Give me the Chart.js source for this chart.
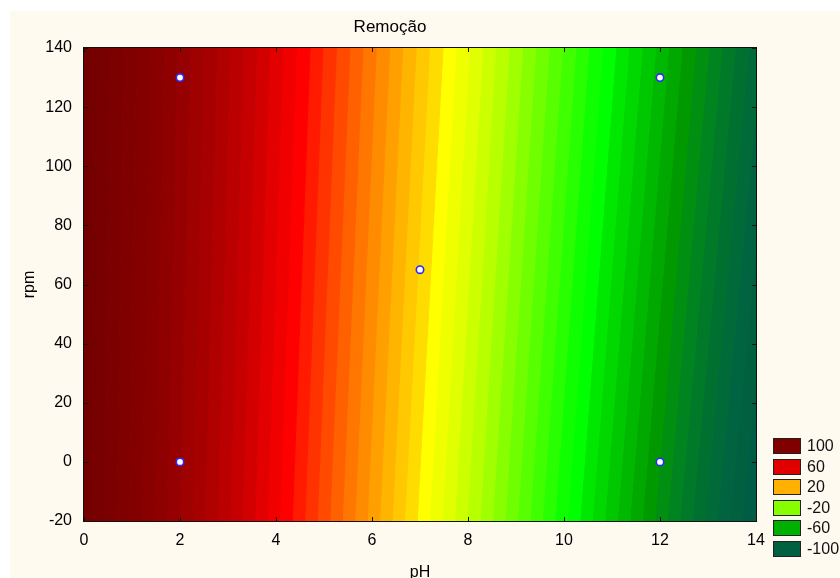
<!DOCTYPE html>
<html>
<head>
<meta charset="utf-8">
<script src="https://cdn.jsdelivr.net/npm/chart.js@4/dist/chart.umd.min.js"></script>
<style>
  html, body { margin: 0; padding: 0; background: #ffffff; }
  #c { display: block; }
</style>
</head>
<body>
<canvas id="c" width="840" height="578"></canvas>
<script>
// ---------------- data ----------------
const chartTitle = 'Remoção';
const xAxisLabel = 'pH';
const yAxisLabel = 'rpm';

const xTicks = [0, 2, 4, 6, 8, 10, 12, 14];
const yTicks = [-20, 0, 20, 40, 60, 80, 100, 120, 140];
const phRange = [0, 14];
const rpmRange = [-20, 140];

// contour levels of "Remoção" (step 4)
const contourLevels = [116,112,108,104,100,96,92,88,84,80,76,72,68,64,60,56,52,48,44,40,36,32,28,24,20,16,12,8,4,0,-4,-8,-12,-16,-20,-24,-28,-32,-36,-40,-44,-48,-52,-56,-60,-64,-68,-72,-76,-80,-84,-88,-92,-96,-100,-104];
// pH where each contour line meets the bottom edge (rpm = -20)
const contourPHAtRpmMin = [-0.09,0.17,0.43,0.69,0.95,1.21,1.47,1.73,2.00,2.26,2.52,2.78,3.04,3.30,3.56,3.82,4.08,4.34,4.60,4.86,5.12,5.38,5.64,5.90,6.16,6.42,6.68,6.94,7.20,7.46,7.72,7.98,8.25,8.51,8.77,9.03,9.29,9.55,9.81,10.07,10.33,10.59,10.85,11.11,11.37,11.63,11.89,12.15,12.41,12.67,12.93,13.19,13.45,13.71,13.97,14.23];
// pH where each contour line meets the top edge (rpm = 140)
const contourPHAtRpmMax = [-0.01,0.27,0.55,0.83,1.10,1.38,1.66,1.93,2.21,2.49,2.77,3.04,3.32,3.60,3.87,4.15,4.43,4.71,4.98,5.26,5.54,5.81,6.09,6.37,6.64,6.92,7.20,7.48,7.75,8.03,8.31,8.58,8.86,9.14,9.41,9.69,9.97,10.25,10.52,10.80,11.08,11.35,11.63,11.91,12.18,12.46,12.74,13.02,13.29,13.57,13.85,14.12,14.40,14.68,14.95,15.23];
// colour of the band between contourLevels[i] and contourLevels[i+1]
const bandColors = [
  '#740000','#780000','#7d0000','#800000','#840000','#880000','#8f0000','#970000',
  '#9f0000','#a70000','#b00000','#ba0000','#c60000','#d30000','#e20000','#f10000',
  '#ff0000','#ff1a00','#ff3300','#ff4a00','#ff6000','#ff7600','#ff8c00','#ffa000',
  '#ffb400','#ffc800','#ffdc00','#ffff00','#f0ff00','#e0ff00','#ccff00','#b8ff00',
  '#a0ff00','#88ff00','#70ff00','#58ff00','#40ff00','#28ff00','#10ff00','#00ff00',
  '#00e800','#00d800','#00c800','#00b800','#00a800','#009a00','#008f10','#008420',
  '#007a28','#007030','#006a38','#006440','#006040','#005c44','#005848'
];

// experimental design points
const designPH  = [2, 2, 12, 12, 7];
const designRpm = [0, 130, 0, 130, 65];

// legend
const legendLevels = ['100', '60', '20', '-20', '-60', '-100'];
const legendColors = ['#800000', '#e00000', '#ffb000', '#88ff00', '#00b000', '#006040'];

// ---------------- fonts ----------------
function fontAvailable(name) {
  const ctx = document.createElement('canvas').getContext('2d');
  const s = 'mmmmmwwwlli1406Remoção';
  ctx.font = '50px monospace';
  const w1 = ctx.measureText(s).width;
  ctx.font = '50px "' + name + '", monospace';
  const w2 = ctx.measureText(s).width;
  return Math.abs(w1 - w2) > 0.5;
}
const NARROW = fontAvailable('Liberation Sans Narrow');
const FAMILY = NARROW ? '"Liberation Sans Narrow", "Liberation Sans", Arial, sans-serif'
                      : '"Liberation Sans", Arial, sans-serif';
const FS = NARROW ? 19 : 16;        // tick / legend / axis title size
const TITLE_FS = NARROW ? 20 : 17;

const PAGE_BG = '#fffaf0';
const TEXT = '#000000';

// ---------------- datasets ----------------
const datasets = [{
  label: 'design',
  data: designPH.map((x, i) => ({ x: x, y: designRpm[i] })),
  pointRadius: 3.7,
  pointBackgroundColor: '#ffffff',
  pointBorderColor: '#2a2aff',
  pointBorderWidth: 1.6,
  order: 0
}];
for (let i = 0; i < bandColors.length; i++) {
  datasets.push({
    label: 'band ' + contourLevels[i + 1] + '..' + contourLevels[i],
    data: [
      { x: contourPHAtRpmMin[i],     y: rpmRange[0] },
      { x: contourPHAtRpmMax[i],     y: rpmRange[1] },
      { x: contourPHAtRpmMax[i + 1], y: rpmRange[1] },
      { x: contourPHAtRpmMin[i + 1], y: rpmRange[0] }
    ],
    showLine: true,
    fill: 'shape',
    backgroundColor: bandColors[i],
    borderColor: bandColors[i],
    borderWidth: 1,
    pointRadius: 0,
    tension: 0,
    clip: 0,
    order: 1
  });
}

// ---------------- plugins ----------------
const bgPlugin = {
  id: 'pageBg',
  beforeDraw(chart) {
    const c = chart.ctx;
    c.save();
    c.fillStyle = '#ffffff';
    c.fillRect(0, 0, chart.width, chart.height);
    c.fillStyle = PAGE_BG;
    c.fillRect(10, 11, chart.width - 10, chart.height - 11);
    c.restore();
  }
};

const framePlugin = {
  id: 'frame',
  afterDatasetsDraw(chart) {
    const { ctx, chartArea: a, scales: { x, y } } = chart;
    ctx.save();
    ctx.strokeStyle = '#111111';
    ctx.lineWidth = 1;
    ctx.strokeRect(a.left - 0.5, a.top - 0.5, a.right - a.left + 1, a.bottom - a.top + 1);
    ctx.beginPath();
    xTicks.forEach(v => {
      const px = Math.round(x.getPixelForValue(v)) + 0.5;
      ctx.moveTo(px, a.top); ctx.lineTo(px, a.top + 4);
      ctx.moveTo(px, a.bottom); ctx.lineTo(px, a.bottom - 4);
    });
    yTicks.forEach(v => {
      const py = Math.round(y.getPixelForValue(v)) + 0.5;
      ctx.moveTo(a.left, py); ctx.lineTo(a.left + 4, py);
      ctx.moveTo(a.right, py); ctx.lineTo(a.right - 4, py);
    });
    ctx.stroke();
    ctx.restore();
  }
};

const titleLegendPlugin = {
  id: 'titleLegend',
  afterDraw(chart) {
    const ctx = chart.ctx;
    ctx.save();
    // title
    ctx.fillStyle = TEXT;
    ctx.font = TITLE_FS + 'px ' + FAMILY;
    ctx.textAlign = 'center';
    ctx.textBaseline = 'middle';
    ctx.fillText(chartTitle, 390, 27);
    // legend
    const bx = 773, bw = 28, bh = 16, top0 = 438, step = 20.6;
    ctx.font = FS + 'px ' + FAMILY;
    ctx.textAlign = 'left';
    legendLevels.forEach((lab, i) => {
      const by = Math.round(top0 + i * step);
      ctx.fillStyle = legendColors[i];
      ctx.fillRect(bx, by, bw, bh);
      ctx.strokeStyle = '#222222';
      ctx.lineWidth = 1;
      ctx.strokeRect(bx + 0.5, by + 0.5, bw - 1, bh - 1);
      ctx.fillStyle = '#111111';
      ctx.fillText(lab, 807, by + bh / 2 + 0.5);
    });
    ctx.restore();
  }
};

// ---------------- chart ----------------
new Chart(document.getElementById('c'), {
  type: 'scatter',
  data: { datasets: datasets },
  plugins: [bgPlugin, framePlugin, titleLegendPlugin],
  options: {
    responsive: false,
    animation: false,
    events: [],
    layout: { padding: { left: 0, right: 84, top: 48, bottom: 0 } },
    plugins: { legend: { display: false }, tooltip: { enabled: false }, title: { display: false } },
    scales: {
      x: {
        type: 'linear',
        position: 'bottom',
        min: phRange[0], max: phRange[1],
        grid: { display: false, drawTicks: false },
        border: { display: false },
        ticks: {
          stepSize: 2, autoSkip: false, maxRotation: 0,
          color: TEXT,
          font: { family: FAMILY, size: FS },
          padding: 540.5 - 521 - 0.6 * FS
        },
        title: {
          display: true, text: xAxisLabel, color: TEXT,
          font: { family: FAMILY, size: FS, lineHeight: 1 },
          padding: { top: 0, bottom: 5.5 - FS / 2 }
        },
        afterFit(scale) { scale.height = 57; }
      },
      y: {
        type: 'linear',
        position: 'left',
        min: rpmRange[0], max: rpmRange[1],
        grid: { display: false, drawTicks: false },
        border: { display: false },
        ticks: {
          stepSize: 20, autoSkip: false,
          color: TEXT,
          font: { family: FAMILY, size: FS },
          padding: 12
        },
        title: {
          display: true, text: yAxisLabel, color: TEXT,
          font: { family: FAMILY, size: FS, lineHeight: 1 },
          padding: { top: 29.5 - FS / 2, bottom: 0 }
        },
        afterFit(scale) { scale.width = 84; }
      }
    }
  }
});
</script>
</body>
</html>
